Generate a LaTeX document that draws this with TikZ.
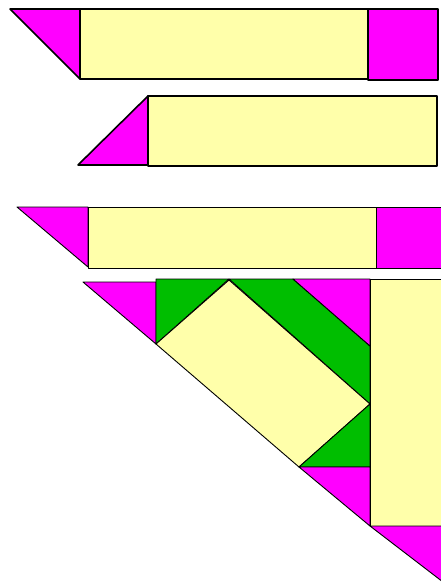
\documentclass[tikz,border=0pt]{standalone}
\usepackage{tikz}

\definecolor{pieceyellow}{RGB}{255,255,170}
\definecolor{piecemagenta}{RGB}{255,0,255}
\definecolor{piecegreen}{RGB}{0,190,0}

\begin{document}
\begin{tikzpicture}[
    x=1pt, y=-1pt,
    edge/.style={draw=black, line width=0.9pt, line join=round},
    corner/.style={edge, fill=piecemagenta},
    bar/.style={edge, fill=pieceyellow},
    wedge/.style={edge, fill=piecegreen},
    heavy/.style={line width=1.6pt}
]
\useasboundingbox (0,0) rectangle (441,582);

% first row: triangle, long bar, square
\draw[corner, heavy] (10,9) -- (80,9) -- (80,79) -- cycle;
\draw[bar, heavy] (80,9) rectangle (368,79);
\draw[corner, heavy] (368,9) rectangle (438,80);

% second row: triangle and long bar
\draw[corner, heavy] (78,165) -- (148,96) -- (148,165) -- cycle;
\draw[bar, heavy] (148,96) rectangle (437,166);

% third row (flattened)
\draw[corner] (17,207) -- (88,207) -- (88,267) -- cycle;
\draw[bar] (88,207) rectangle (376,268);
\draw[corner] (376,207) rectangle (443,268);

% big triangle cut into pieces
\draw[corner] (83,282) -- (156,282) -- (156,344) -- cycle;
\draw[wedge] (156,279) -- (229,279) -- (156,344) -- cycle;
\draw[wedge] (229,279) -- (293,279) -- (370,346) -- (370,404) -- cycle;
\draw[corner] (293,279) -- (370,279) -- (370,346) -- cycle;
\draw[bar] (229,280) -- (370,404) -- (299,467) -- (156,344) -- cycle;
\draw[wedge] (370,404) -- (370,467) -- (299,467) -- cycle;
\draw[corner] (299,467) -- (370,467) -- (370,526) -- cycle;
\draw[bar] (370,279) rectangle (443,526);
\draw[corner] (370,526) -- (443,526) -- (443,582) -- cycle;

\end{tikzpicture}
\end{document}
